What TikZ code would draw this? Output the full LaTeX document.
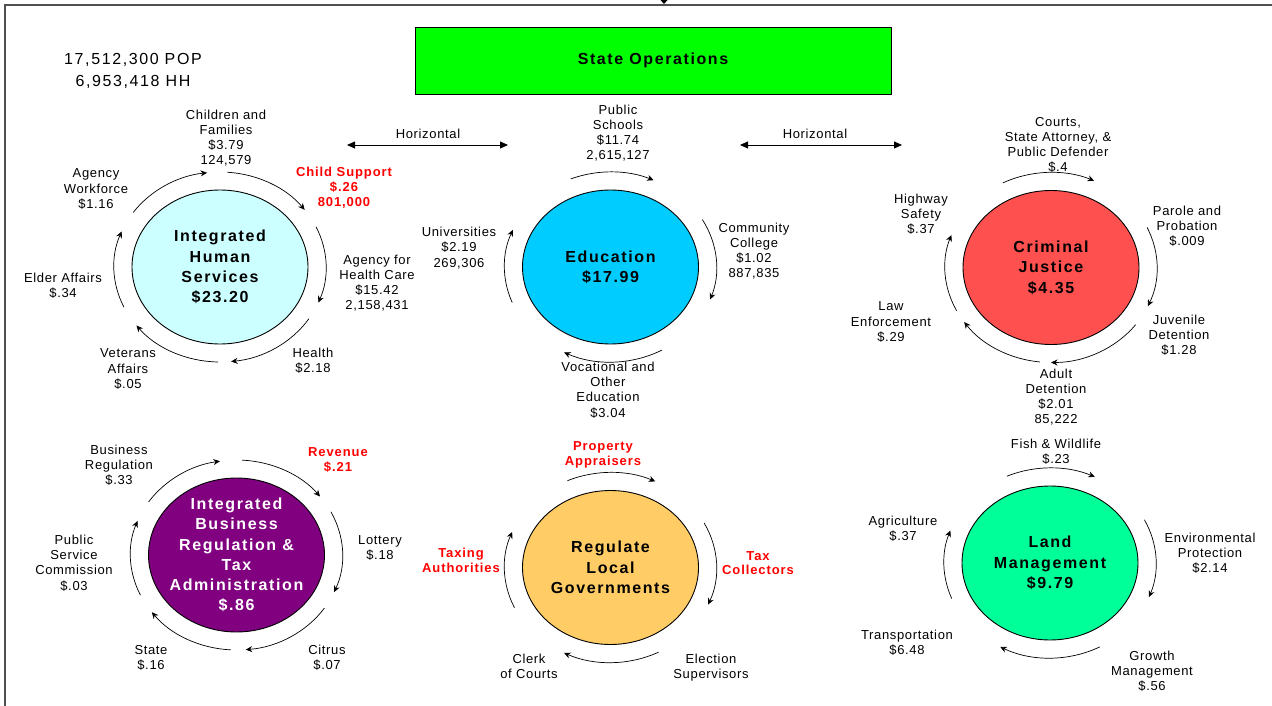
\documentclass[tikz,border=0pt]{standalone}
\usepackage{fontspec}
\usetikzlibrary{shapes.geometric,arrows.meta}
\setmainfont{Liberation Sans}
\newfontfamily\lblfont{Liberation Sans}[LetterSpace=5]
\newfontfamily\hubfont{Liberation Sans}[LetterSpace=10]
\newfontfamily\redfont{Liberation Sans}[LetterSpace=7]

\definecolor{stategreen}{HTML}{00FF00}
\definecolor{ihscol}{HTML}{CCFFFF}
\definecolor{educol}{HTML}{00CCFF}
\definecolor{crimcol}{HTML}{FF5050}
\definecolor{bizcol}{HTML}{800080}
\definecolor{localcol}{HTML}{FFCC66}
\definecolor{landcol}{HTML}{00FF99}
\definecolor{framecol}{HTML}{505050}
\definecolor{alertred}{HTML}{FF0000}

% one curved arrow of the ring drawn around a hub
\newcommand\hubarc[3]{\draw[cyc] ([shift={(#2:106 and 95)}]#1.center) arc[start angle=#2, end angle=#3, x radius=106, y radius=95];}

\begin{document}
\begin{tikzpicture}[x=1pt,y=-1pt,
  lab/.style={align=center, inner sep=0pt, font=\lblfont\fontsize{13}{15.2}\selectfont},
  redlab/.style={align=center, inner sep=0pt, text=alertred, font=\redfont\bfseries\fontsize{13}{14.8}\selectfont},
  hub/.style={ellipse, draw=black, line width=0.9pt, minimum width=176pt, minimum height=154pt, inner sep=0pt},
  hubtxt/.style={align=center, inner sep=0pt, font=\hubfont\bfseries\fontsize{16}{20.3}\selectfont},
  poptxt/.style={align=center, inner sep=0pt, font=\hubfont\fontsize{16}{22}\selectfont},
  cyc/.style={draw=black, line width=0.7pt, -{Stealth[length=6.5pt,width=6pt]}},
  horiz/.style={draw=black, line width=0.8pt, {Triangle[length=8pt,width=7pt]}-{Triangle[length=8pt,width=7pt]}},
  frame/.style={draw=framecol, line width=1.6pt}
]
\useasboundingbox (0,0) rectangle (1272,706);

% page frame and the incoming tip at the top edge
\coordinate (fbl) at (5,706);
\coordinate (ftl) at (5,5);
\coordinate (ftr) at (1272,5);
\draw[frame] (fbl) -- (ftl) -- (ftr);
\fill (660.5,0) -- (667.5,0) -- (664,4) -- cycle;

% header
\node[draw=black, line width=0.9pt, fill=stategreen, minimum width=476pt, minimum height=67pt] (state) at (653,60.5) {};
\node[hubtxt] (statetxt) at (state.center) {State Operations};
\node[poptxt] (pop) at (133,71) {17,512,300 POP\\6,953,418 HH};

% horizontal links
\coordinate (hl1) at (347,145);
\coordinate (hr1) at (508,145);
\coordinate (hl2) at (740,145);
\coordinate (hr2) at (902,145);
\draw[horiz] (hl1) -- (hr1);
\draw[horiz] (hl2) -- (hr2);
\node[lab] (horizA) at (428,134) {Horizontal};
\node[lab] (horizB) at (815,134) {Horizontal};

% hubs
\node[hub, fill=ihscol] (ihs) at (220,267) {};
\node[hubtxt] (ihst) at (ihs.center) {Integrated\\Human\\Services\\\$23.20};
\node[hub, fill=educol] (edu) at (610.5,267) {};
\node[hubtxt] (edut) at (edu.center) {Education\\\$17.99};
\node[hub, fill=crimcol] (crim) at (1051,267.5) {};
\node[hubtxt] (crimt) at (crim.center) {Criminal\\Justice\\\$4.35};
\node[hub, fill=bizcol] (biz) at (236.5,555) {};
\node[hubtxt, text=white] (bizt) at (biz.center) {Integrated\\Business\\Regulation \&\\Tax\\Administration\\\$.86};
\node[hub, fill=localcol] (local) at (610.5,567.5) {};
\node[hubtxt] (localt) at (local.center) {Regulate\\Local\\Governments};
\node[hub, fill=landcol] (land) at (1050,563) {};
\node[hubtxt] (landt) at (land.center) {Land\\Management\\\$9.79};

% rings of arrows
\hubarc{ihs}{-145}{-97}
\hubarc{ihs}{-86}{-37}
\hubarc{ihs}{-25}{22}
\hubarc{ihs}{33}{84}
\hubarc{ihs}{91}{142}
\hubarc{ihs}{155}{202}

\hubarc{edu}{-112}{-66}
\hubarc{edu}{-30}{20}
\hubarc{edu}{61}{116}
\hubarc{edu}{158}{203}

\hubarc{crim}{-117}{-66}
\hubarc{crim}{-25}{24}
\hubarc{crim}{37}{90}
\hubarc{crim}{96}{145}
\hubarc{crim}{153}{200}

\hubarc{biz}{-146}{-99}
\hubarc{biz}{-87}{-38}
\hubarc{biz}{-27}{23}
\hubarc{biz}{34}{85}
\hubarc{biz}{93}{143}
\hubarc{biz}{155}{201}

\hubarc{local}{-114}{-65}
\hubarc{local}{-28}{23}
\hubarc{local}{63}{116}
\hubarc{local}{155}{202}

\hubarc{land}{-114}{-65}
\hubarc{land}{-27}{21}
\hubarc{land}{62}{118}
\hubarc{land}{158}{200}

% Integrated Human Services agencies
\node[lab] (cf) at (226,138) {Children and\\Families\\\$3.79\\124,579};
\node[redlab] (cs) at (344,188) {Child Support\\\$.26\\801,000};
\node[lab] (ahca) at (377,283) {Agency for\\Health Care\\\$15.42\\2,158,431};
\node[lab] (health) at (313,361) {Health\\\$2.18};
\node[lab] (vet) at (128,369) {Veterans\\Affairs\\\$.05};
\node[lab] (elder) at (63,286) {Elder Affairs\\\$.34};
\node[lab] (awf) at (96,189) {Agency\\Workforce\\\$1.16};

% Education sectors
\node[lab] (ps) at (618,133) {Public\\Schools\\\$11.74\\2,615,127};
\node[lab] (univ) at (459,248) {Universities\\\$2.19\\269,306};
\node[lab] (cc) at (754,251) {Community\\College\\\$1.02\\887,835};
\node[lab] (voc) at (608,390) {Vocational and\\Other\\Education\\\$3.04};

% Criminal Justice agencies
\node[lab] (courts) at (1058,145) {Courts,\\State Attorney, \&\\Public Defender\\\$.4};
\node[lab] (hwy) at (921,214) {Highway\\Safety\\\$.37};
\node[lab] (parole) at (1187,226) {Parole and\\Probation\\\$.009};
\node[lab] (law) at (891,322) {Law\\Enforcement\\\$.29};
\node[lab] (juv) at (1179,335) {Juvenile\\Detention\\\$1.28};
\node[lab] (adult) at (1056,397) {Adult\\Detention\\\$2.01\\85,222};

% Business Regulation and Tax agencies
\node[lab] (busreg) at (119,465) {Business\\Regulation\\\$.33};
\node[redlab] (rev) at (338,460) {Revenue\\\$.21};
\node[lab] (lott) at (380,548) {Lottery\\\$.18};
\node[lab] (psc) at (74,563) {Public\\Service\\Commission\\\$.03};
\node[lab] (citrus) at (327,658) {Citrus\\\$.07};
\node[lab] (statedept) at (151,658) {State\\\$.16};

% Local government offices
\node[redlab] (prop) at (603,455) {Property\\Appraisers};
\node[redlab] (taxauth) at (461,560) {Taxing\\Authorities};
\node[redlab] (taxcoll) at (758,563) {Tax\\Collectors};
\node[lab] (clerk) at (529,666) {Clerk\\of Courts};
\node[lab] (elect) at (711,668) {Election\\Supervisors};

% Land Management agencies
\node[lab] (fish) at (1056,452) {Fish \& Wildlife\\\$.23};
\node[lab] (agri) at (903,529) {Agriculture\\\$.37};
\node[lab] (env) at (1210,553) {Environmental\\Protection\\\$2.14};
\node[lab] (trans) at (907,643) {Transportation\\\$6.48};
\node[lab] (growth) at (1152,671) {Growth\\Management\\\$.56};
\end{tikzpicture}
\end{document}
